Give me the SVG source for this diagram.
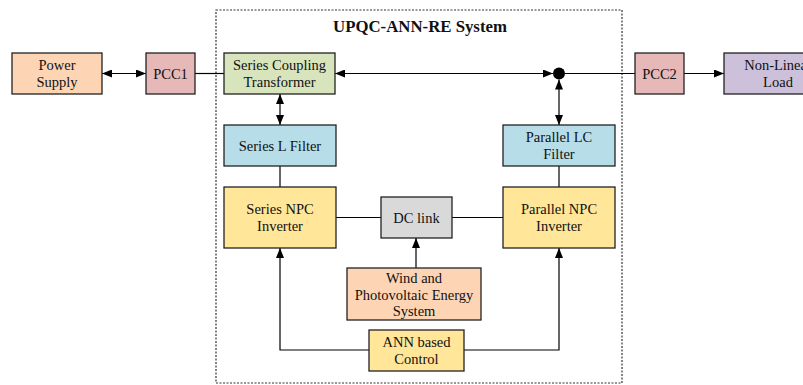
<svg xmlns="http://www.w3.org/2000/svg" width="803" height="385" viewBox="0 0 803 385">
<style>
.box{stroke:#222;stroke-width:1.3}
.ln{stroke:#000;stroke-width:1.2;fill:none}
</style>
<defs>
<marker id="ah" viewBox="0 0 10 8" refX="10" refY="4" markerWidth="10" markerHeight="8" markerUnits="userSpaceOnUse" orient="auto-start-reverse">
<path d="M0,0 L10,4 L0,8 Z" fill="#000"/>
</marker>
</defs>
<rect width="803" height="385" fill="#fff"/>
<g id="system-boundary">
<rect x="216" y="10" width="406" height="373" fill="none" stroke="#333" stroke-width="1.2" stroke-dasharray="2,1.5"/>
<text x="420" y="32" font-family="Liberation Serif, Times New Roman, serif" font-size="16.8" font-weight="bold" text-anchor="middle" fill="#111">UPQC-ANN-RE System</text>
</g>
<g id="connectors">
<line class="ln" x1="102" y1="73.5" x2="146" y2="73.5" marker-start="url(#ah)" marker-end="url(#ah)"/>
<line class="ln" x1="195" y1="73.5" x2="224" y2="73.5"/>
<line class="ln" x1="335" y1="73.5" x2="553" y2="73.5" marker-start="url(#ah)" marker-end="url(#ah)"/>
<line class="ln" x1="565" y1="73.5" x2="635" y2="73.5"/>
<line class="ln" x1="684" y1="73.5" x2="724" y2="73.5" marker-end="url(#ah)"/>
<line class="ln" x1="559" y1="79.5" x2="559" y2="125" marker-start="url(#ah)" marker-end="url(#ah)"/>
<line class="ln" x1="280" y1="94" x2="280" y2="125" marker-start="url(#ah)" marker-end="url(#ah)"/>
<line class="ln" x1="280" y1="166" x2="280" y2="187"/>
<line class="ln" x1="559" y1="166" x2="559" y2="187"/>
<line class="ln" x1="336" y1="217.5" x2="381" y2="217.5"/>
<line class="ln" x1="452" y1="217.5" x2="503" y2="217.5"/>
<line class="ln" x1="416" y1="268" x2="416" y2="238" marker-end="url(#ah)"/>
<polyline class="ln" points="369,350 280,350 280,248" marker-end="url(#ah)"/>
<polyline class="ln" points="464,350 559,350 559,248" marker-end="url(#ah)"/>
<circle cx="559" cy="73.5" r="6" fill="#000"/>
</g>
<g font-family="Liberation Serif, Times New Roman, serif" font-size="14.5" fill="#111" text-anchor="middle">
<g id="power-supply">
<rect class="box" x="12" y="53" width="90" height="41" fill="#fdd5b4"/>
<text x="57" y="69.5">Power</text><text x="57" y="87">Supply</text>
</g>
<g id="pcc1">
<rect class="box" x="146" y="53" width="49" height="41" fill="#e6b8b7"/>
<text x="170.5" y="78.5">PCC1</text>
</g>
<g id="series-coupling-transformer">
<rect class="box" x="224" y="53" width="111" height="41" fill="#d8e4bc"/>
<text x="279.5" y="69.5">Series Coupling</text><text x="279.5" y="87">Transformer</text>
</g>
<g id="pcc2">
<rect class="box" x="635" y="53" width="49" height="41" fill="#e6b8b7"/>
<text x="659.5" y="78.5">PCC2</text>
</g>
<g id="non-linear-load">
<rect class="box" x="724" y="53" width="108" height="41" fill="#ccc0da"/>
<text x="778" y="69.5">Non-Linear</text><text x="778" y="87">Load</text>
</g>
<g id="series-l-filter">
<rect class="box" x="224" y="125" width="112" height="41" fill="#b7dde8"/>
<text x="280" y="150.5">Series L Filter</text>
</g>
<g id="parallel-lc-filter">
<rect class="box" x="503" y="125" width="112" height="41" fill="#b7dde8"/>
<text x="559" y="141.5">Parallel LC</text><text x="559" y="159">Filter</text>
</g>
<g id="series-npc-inverter">
<rect class="box" x="224" y="187" width="112" height="61" fill="#ffe699"/>
<text x="280" y="214">Series NPC</text><text x="280" y="231">Inverter</text>
</g>
<g id="parallel-npc-inverter">
<rect class="box" x="503" y="187" width="112" height="61" fill="#ffe699"/>
<text x="559" y="214">Parallel NPC</text><text x="559" y="231">Inverter</text>
</g>
<g id="dc-link">
<rect class="box" x="381" y="197" width="71" height="41" fill="#d9d9d9"/>
<text x="416.5" y="222.5">DC link</text>
</g>
<g id="wind-pv">
<rect class="box" x="347" y="268" width="134" height="52" fill="#fdd5b4"/>
<text x="414" y="283">Wind and</text><text x="414" y="299.5">Photovoltaic Energy</text><text x="414" y="316">System</text>
</g>
<g id="ann-control">
<rect class="box" x="369" y="330" width="95" height="41" fill="#ffe699"/>
<text x="416.5" y="346.5">ANN based</text><text x="416.5" y="364">Control</text>
</g>
</g>
</svg>
